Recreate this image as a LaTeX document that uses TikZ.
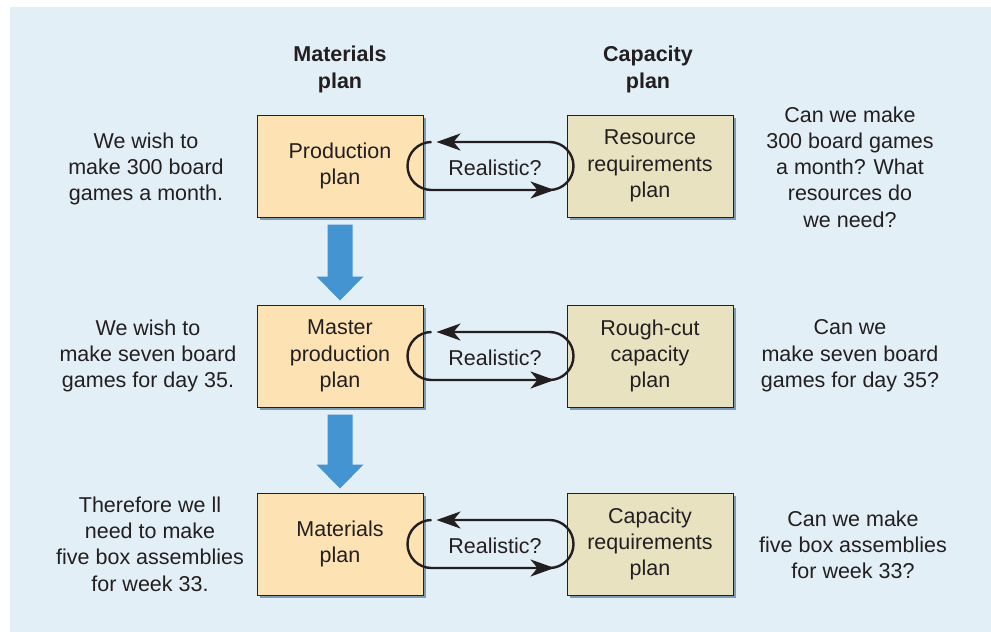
\documentclass[tikz,border=0pt]{standalone}
\usepackage{fontspec}
\setmainfont{Liberation Sans}
\usetikzlibrary{calc,arrows.meta,shadows}

\definecolor{bg}{HTML}{E3EFF6}
\definecolor{peach}{HTML}{FDE2B4}
\definecolor{beige}{HTML}{E8E2C0}
\definecolor{shade}{HTML}{7C9DB5}
\definecolor{txt}{HTML}{231F20}
\definecolor{arrowblue}{HTML}{4494D2}

\begin{document}
\begin{tikzpicture}[x=1pt,y=1pt, font=\fontsize{21.5}{26.3}\selectfont, text=txt,
 planbox/.style={draw=txt, line width=1pt, minimum width=166pt, minimum height=102pt, align=center, inner sep=0pt,
   drop shadow={shadow xshift=3pt, shadow yshift=-3pt, fill=shade, opacity=1}},
 matbox/.style={planbox, fill=peach},
 capbox/.style={planbox, fill=beige},
 note/.style={align=center, inner sep=0pt},
 head/.style={note, font=\fontsize{21.5}{27}\selectfont\bfseries},
 loopline/.style={line width=2.4pt, draw=txt},
 looptip/.style={-{Stealth[length=24pt, width=17pt, inset=7pt]}},
 bigarrow/.style={fill=arrowblue}
]
\useasboundingbox (0,0) rectangle (991,-632);
\fill[white] (0,0) rectangle (991,-632);
\fill[bg] (10,-7) rectangle (991,-632);

% headings
\node[head] (mh) at (340,-69) {Materials\\plan};
\node[head] (ch) at (648,-69) {Capacity\\plan};

% boxes
\node[matbox] (pp)  at (340,-166) {Production\\plan};
\node[capbox] (rrp) at (650,-166) {Resource\\requirements\\plan};
\node[matbox] (mpp) at (340,-356) {Master\\production\\plan};
\node[capbox] (rcc) at (650,-356) {Rough-cut\\capacity\\plan};
\node[matbox] (mp)  at (340,-544) {Materials\\plan};
\node[capbox] (crp) at (650,-544) {Capacity\\requirements\\plan};

% left notes
\node[note] (l1) at (146,-169) {We wish to\\make 300 board\\games a month.};
\node[note] (l2) at (148,-356) {We wish to\\make seven board\\games for day 35.};
\node[note] (l3) at (150,-544) {Therefore we ll\\need to make\\five box assemblies\\for week 33.};

% right notes
\node[note] (r1) at (850,-167) {Can we make\\300 board games\\a month? What\\resources do\\we need?};
\node[note] (r2) at (850,-356) {Can we\\make seven board\\games for day 35?};
\node[note] (r3) at (853,-545) {Can we make\\five box assemblies\\for week 33?};

% loops
\foreach \L/\R/\Q in {pp/rrp/q1, mpp/rcc/q2, mp/crp/q3}{
  \draw[loopline, looptip] ($(\R.west)+(-17,-24)$) arc[start angle=-90, end angle=90, radius=24pt] -- ($(\L.east)+(13,24)$);
  \draw[loopline, looptip] ($(\L.east)+(8,24)$) arc[start angle=90, end angle=270, radius=24pt] -- ($(\R.west)+(-12,-24)$);
  \node[note] (\Q) at ($(\L.east)!0.5!(\R.west)+(0,-2)$) {Realistic?};
}

% blue arrows
\foreach \A/\B in {pp/mpp, mpp/mp}{
  \fill[bigarrow] ($(\A.south)+(-12.5,-7)$) -- ($(\A.south)+(12.5,-7)$) -- ($(\B.north)+(12.5,28)$)
    -- ($(\B.north)+(23.5,28)$) -- ($(\B.north)+(0,4)$) -- ($(\B.north)+(-23.5,28)$)
    -- ($(\B.north)+(-12.5,28)$) -- cycle;
}
\end{tikzpicture}
\end{document}
